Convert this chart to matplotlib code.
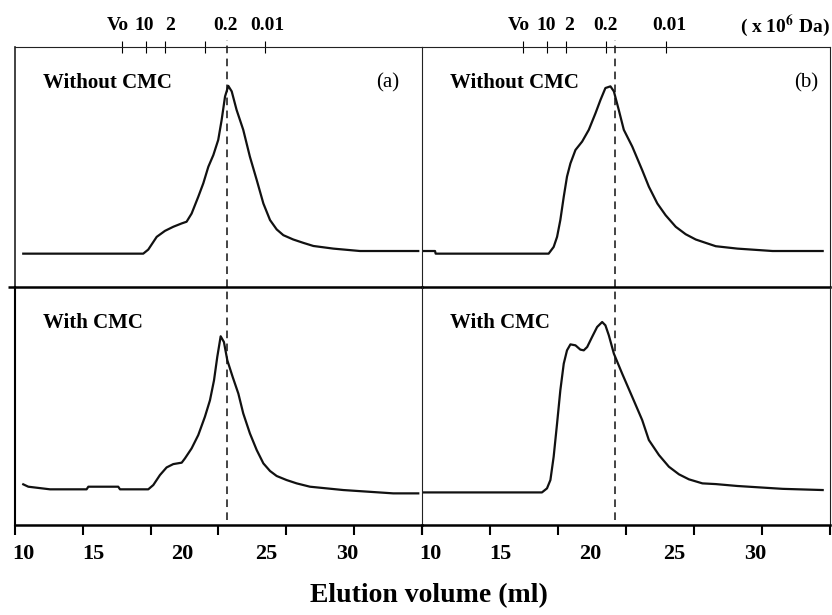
import numpy as np
import matplotlib
matplotlib.use('Agg')
import matplotlib.pyplot as plt

plt.rcParams['font.family'] = ['Liberation Serif', 'DejaVu Serif']
plt.rcParams['mathtext.fontset'] = 'stix'

# elution volume (ml) and relative absorbance
a_without_x = [10.01, 17.40, 17.71, 18.23, 18.74, 19.25, 19.77, 20.07, 20.38, 20.79,
               21.10, 21.41, 21.72, 22.02, 22.23, 22.44, 22.64, 22.85, 23.15, 23.56,
               23.97, 24.39, 24.80, 25.21, 25.62, 26.03, 26.64, 27.26, 27.88, 29.11,
               30.75, 34.34]
a_without_y = [0.139, 0.139, 0.156, 0.209, 0.234, 0.251, 0.265, 0.272, 0.306, 0.376,
               0.432, 0.501, 0.550, 0.613, 0.696, 0.794, 0.838, 0.815, 0.738, 0.655,
               0.543, 0.446, 0.348, 0.279, 0.240, 0.216, 0.198, 0.184, 0.171, 0.160,
               0.150, 0.150]

a_with_x = [10.01, 10.32, 11.66, 13.91, 14.02, 15.86, 15.97, 17.71, 18.02, 18.43,
            18.84, 19.25, 19.77, 19.97, 20.38, 20.79, 21.20, 21.51, 21.76, 21.96,
            22.17, 22.37, 22.58, 22.91, 23.26, 23.56, 23.97, 24.39, 24.80, 25.21,
            25.62, 26.23, 26.85, 27.67, 29.72, 32.80, 34.34]
a_with_y = [0.171, 0.161, 0.150, 0.150, 0.161, 0.161, 0.150, 0.150, 0.168, 0.210,
            0.242, 0.256, 0.262, 0.280, 0.322, 0.378, 0.455, 0.524, 0.608, 0.706,
            0.793, 0.769, 0.692, 0.622, 0.552, 0.469, 0.385, 0.315, 0.259, 0.227,
            0.206, 0.189, 0.175, 0.161, 0.147, 0.133, 0.133]

b_without_x = [9.56, 10.28, 10.32, 17.26, 17.57, 17.78, 17.98, 18.19, 18.39, 18.60,
               18.91, 19.32, 19.73, 20.14, 20.45, 20.75, 21.06, 21.27, 21.57, 21.88,
               22.40, 23.01, 23.42, 23.94, 24.45, 25.07, 25.68, 26.30, 26.91, 27.53,
               28.86, 31.02, 34.10]
b_without_y = [0.150, 0.150, 0.139, 0.139, 0.167, 0.209, 0.279, 0.376, 0.460, 0.515,
               0.571, 0.606, 0.655, 0.724, 0.780, 0.829, 0.836, 0.815, 0.738, 0.655,
               0.585, 0.487, 0.418, 0.348, 0.299, 0.251, 0.220, 0.198, 0.184, 0.170,
               0.160, 0.150, 0.150]

b_with_x = [9.56, 16.85, 17.16, 17.37, 17.57, 17.78, 17.98, 18.19, 18.39, 18.60,
            18.91, 19.21, 19.42, 19.63, 19.93, 20.24, 20.55, 20.75, 20.96, 21.27,
            21.78, 22.40, 23.01, 23.42, 24.04, 24.65, 25.27, 25.88, 26.71, 27.53,
            28.86, 31.64, 34.10]
b_with_y = [0.137, 0.137, 0.154, 0.189, 0.287, 0.427, 0.566, 0.678, 0.734, 0.759,
            0.755, 0.737, 0.734, 0.748, 0.790, 0.832, 0.853, 0.839, 0.797, 0.720,
            0.636, 0.538, 0.441, 0.357, 0.294, 0.245, 0.213, 0.192, 0.175, 0.172,
            0.164, 0.152, 0.147]

# molecular weight markers (x 10^6 Da) along the top
a_marker_pos = [16.07, 17.55, 18.74, 21.20, 24.90]
a_marker_label_pos = [15.84, 17.45, 19.05, 22.44, 25.02]
b_marker_pos = [15.66, 17.16, 18.35, 20.80, 24.49]
b_marker_label_pos = [15.46, 17.09, 18.54, 20.75, 24.69]
marker_labels = ['Vo', '10', '2', '0.2', '0.01']
unit_label = r'( x 10$^{\mathbf{6}}$ Da)'
unit_label_pos = 31.78
a_dashed = 22.54
b_dashed = 21.31

xtick_label_pos = [10.0, 14.3, 19.8, 24.95, 29.95]
xtick_labels = ['10', '15', '20', '25', '30']
xlim = (9.5, 34.55)


def style_panel(ax, top_row):
    ax.set_xlim(*xlim)
    ax.set_ylim(0, 1)
    ax.set_yticks([])
    ax.patch.set_visible(False)
    for s in ax.spines.values():
        s.set_linewidth(0.8)
        s.set_color('#222222')
    if top_row:
        ax.spines['bottom'].set_linewidth(1.8)
        ax.spines['bottom'].set_color('black')
        ax.tick_params(which='both', bottom=False, labelbottom=False,
                       top=True, labeltop=True)
        ax.tick_params(which='major', length=0, pad=9, labelsize=14)
        ax.tick_params(which='minor', direction='inout', length=9, width=0.8)
    else:
        ax.spines['top'].set_visible(False)
        ax.spines['bottom'].set_linewidth(1.8)
        ax.spines['bottom'].set_color('black')
        ax.set_xticks(xtick_label_pos)
        ax.set_xticklabels(xtick_labels, fontweight='bold')
        ax.set_xticks(np.linspace(xlim[0], xlim[1], 7), minor=True)
        ax.tick_params(which='both', top=False)
        ax.tick_params(which='major', length=0, pad=14, labelsize=16)
        ax.tick_params(which='minor', direction='out', length=7, width=1.5)


fig = plt.figure(figsize=(8.32, 6.15), dpi=100)
ax_a1 = fig.add_axes([0.018, 0.5333, 0.4888, 0.3903])
ax_b1 = fig.add_axes([0.5076, 0.5333, 0.4900, 0.3903])
ax_a2 = fig.add_axes([0.018, 0.1463, 0.4888, 0.3870])
ax_b2 = fig.add_axes([0.5076, 0.1463, 0.4900, 0.3870])

line_kw = dict(color='#111111', linewidth=1.6)
dash_kw = dict(color='#111111', linewidth=1.1, linestyle=(0, (5, 3.5)))

for ax, xs, ys, dashed, title, top_row in [
        (ax_a1, a_without_x, a_without_y, a_dashed, 'Without CMC', True),
        (ax_b1, b_without_x, b_without_y, b_dashed, 'Without CMC', True),
        (ax_a2, a_with_x, a_with_y, a_dashed, 'With CMC', False),
        (ax_b2, b_with_x, b_with_y, b_dashed, 'With CMC', False)]:
    style_panel(ax, top_row)
    ax.plot(xs, ys, **line_kw)
    if top_row:
        ax.axvline(dashed, ymin=0, ymax=1.03, clip_on=False, **dash_kw)
    else:
        ax.axvline(dashed, ymin=0.02, ymax=1, **dash_kw)
    ax.text(0.068, 0.85, title, transform=ax.transAxes, fontsize=15,
            fontweight='bold', va='center', ha='left')

ax_a1.set_xticks(a_marker_label_pos)
ax_a1.set_xticklabels(marker_labels, fontweight='bold')
ax_a1.set_xticks(a_marker_pos, minor=True)
ax_b1.set_xticks(b_marker_label_pos)
ax_b1.set_xticklabels(marker_labels, fontweight='bold')
ax_b1.set_xticks(b_marker_pos, minor=True)
ax_b1.text(unit_label_pos, 1.0625, unit_label, transform=ax_b1.get_xaxis_transform(),
           fontsize=14, fontweight='bold', ha='center', va='baseline')

ax_a1.text(0.945, 0.85, '(a)', transform=ax_a1.transAxes, fontsize=15,
           va='center', ha='right')
ax_b1.text(0.97, 0.85, '(b)', transform=ax_b1.transAxes, fontsize=15,
           va='center', ha='right')

# panel borders shared between neighbours
ax_a1.spines['right'].set_visible(False)
ax_a2.spines['right'].set_visible(False)
ax_a1.spines['left'].set_linewidth(1.2)
ax_a2.spines['left'].set_linewidth(1.5)
ax_a2.spines['left'].set_color('black')

# the middle separator pokes out to the left
ax_a2.set_yticks([1])
ax_a2.set_yticklabels([])
ax_a2.tick_params(axis='y', direction='out', length=5, width=1.8)

fig.text(0.516, 0.032, 'Elution volume (ml)', fontsize=20, fontweight='bold',
         ha='center', va='center')

plt.savefig('out.png', dpi=100)
